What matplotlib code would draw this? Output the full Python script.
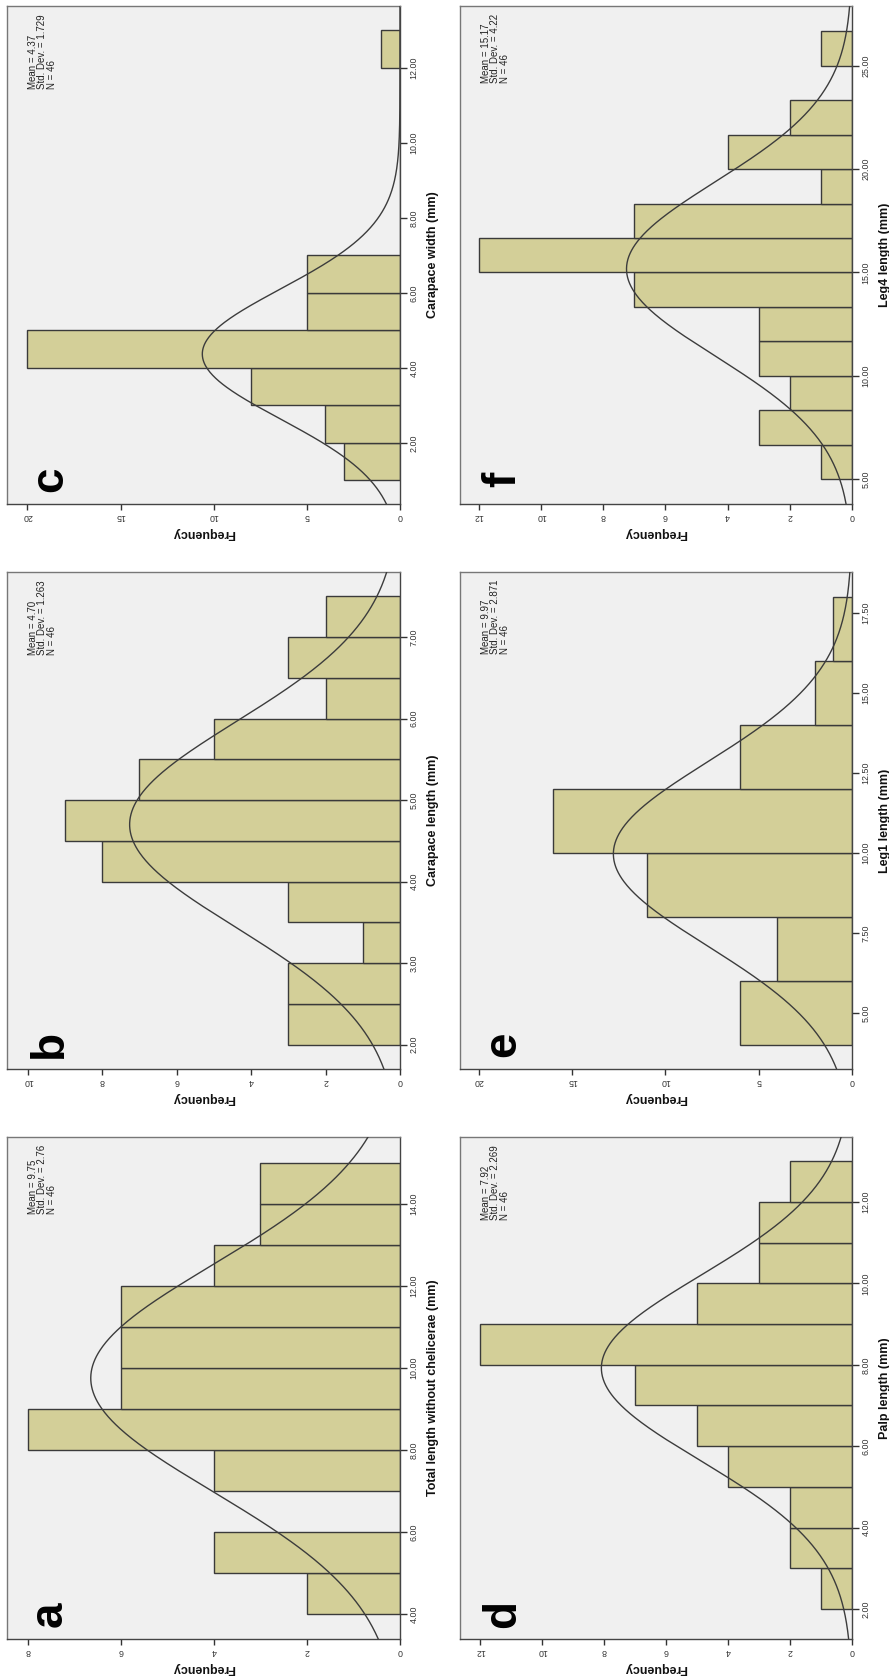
import numpy as np
import matplotlib.pyplot as plt

plt.rcParams['font.family'] = ['Liberation Sans', 'DejaVu Sans']

N = 46

# counts per bin for each measurement
freq_a = [2, 4, 0, 4, 8, 6, 6, 6, 4, 3, 3]
freq_b = [3, 3, 1, 3, 8, 9, 7, 5, 2, 3, 2]
freq_c = [3, 4, 8, 20, 5, 5, 0, 0, 0, 0, 0, 1]
freq_d = [1, 2, 2, 4, 5, 7, 12, 5, 3, 3, 2]
freq_e = [6, 4, 11, 16, 6, 2, 1]
freq_f = [1, 3, 2, 3, 3, 7, 12, 7, 1, 4, 2, 0, 1]

# first bin edge, bin width
bins_a = (4.0, 1.0)
bins_b = (2.0, 0.5)
bins_c = (1.0, 1.0)
bins_d = (2.0, 1.0)
bins_e = (4.0, 2.0)
bins_f = (5.0, 5.0 / 3.0)

# summary statistics as printed
mean_a, sd_a = "9.75", "2.76"
mean_b, sd_b = "4.70", "1.263"
mean_c, sd_c = "4.37", "1.729"
mean_d, sd_d = "7.92", "2.269"
mean_e, sd_e = "9.97", "2.871"
mean_f, sd_f = "15.17", "4.22"

label_a = "Total length without chelicerae (mm)"
label_b = "Carapace length (mm)"
label_c = "Carapace width (mm)"
label_d = "Palp length (mm)"
label_e = "Leg1 length (mm)"
label_f = "Leg4 length (mm)"

# measurement axis ticks
ticks_a = [4, 6, 8, 10, 12, 14]
ticks_b = [2, 3, 4, 5, 6, 7]
ticks_c = [2, 4, 6, 8, 10, 12]
ticks_d = [2, 4, 6, 8, 10, 12]
ticks_e = [5, 7.5, 10, 12.5, 15, 17.5]
ticks_f = [5, 10, 15, 20, 25]

# frequency axis ticks
fticks_a = [0, 2, 4, 6, 8]
fticks_b = [0, 2, 4, 6, 8, 10]
fticks_c = [0, 5, 10, 15, 20]
fticks_d = [0, 2, 4, 6, 8, 10, 12]
fticks_e = [0, 5, 10, 15, 20]
fticks_f = [0, 2, 4, 6, 8, 10, 12]

BAR = '#d3cf98'
EDGE = '#3a3a3a'
BG = '#f0f0f0'

W, H = 889, 1680
fig = plt.figure(figsize=(W / 100, H / 100), dpi=100)
fig.patch.set_facecolor('white')


def px_axes(x0, y0, x1, y1):
    # pixel box (top-left origin) -> figure fraction
    return fig.add_axes([x0 / W, 1 - y1 / H, (x1 - x0) / W, (y1 - y0) / H])


def draw_panel(ax, letter, freq, bins, mean, sd, label, ticks, fticks, vlim, flim):
    start, width = bins
    lefts = start + width * np.arange(len(freq))
    ax.set_facecolor(BG)
    ax.barh(lefts, freq, height=width, align='edge', color=BAR,
            edgecolor=EDGE, linewidth=1.0, zorder=2)

    m, s = float(mean), float(sd)
    yy = np.linspace(vlim[0], vlim[1], 500)
    xx = N * width * np.exp(-0.5 * ((yy - m) / s) ** 2) / (s * np.sqrt(2 * np.pi))
    ax.plot(xx, yy, color='#3c3c3c', lw=1.0, zorder=3)

    ax.set_ylim(*vlim)
    ax.set_xlim(flim, 0)

    ax.yaxis.tick_right()
    ax.yaxis.set_label_position('right')
    ax.set_yticks(ticks)
    ax.set_yticklabels([f"{t:.2f}" for t in ticks])
    ax.set_xticks(fticks)
    ax.set_xticklabels([str(t) for t in fticks])
    ax.tick_params(axis='y', direction='out', length=5, width=1, pad=2,
                   labelrotation=90, labelsize=6.4, color='#333333',
                   labelcolor='#333333')
    ax.tick_params(axis='x', direction='out', length=4, width=1, pad=2,
                   labelrotation=180, labelsize=6.4, color='#333333',
                   labelcolor='#333333')
    for lab in ax.get_yticklabels():
        lab.set_verticalalignment('center')

    ax.set_ylabel(label, rotation=90, fontsize=9, fontweight='bold',
                  labelpad=6, color='#111111')
    ax.set_xlabel('Frequency', rotation=180, fontsize=9, fontweight='bold',
                  labelpad=4, color='#111111')

    for side in ('top', 'left'):
        ax.spines[side].set_color('#777777')
    for side in ('right', 'bottom'):
        ax.spines[side].set_color('#444444')
    for sp in ax.spines.values():
        sp.set_linewidth(1.0)

    ax.text(0.053, 0.984, f"Mean = {mean}\nStd. Dev. = {sd}\nN = {N}",
            transform=ax.transAxes, rotation=90, rotation_mode='anchor',
            ha='right', va='top', multialignment='left', fontsize=7.0,
            linespacing=0.95, color='#222222')

    ax.text(0.14, 0.05, letter, transform=ax.transAxes, rotation=90,
            rotation_mode='anchor', ha='center', va='baseline',
            fontsize=33, fontweight='bold', color='black')


LX0, LX1 = 7, 400
RX0, RX1 = 460, 852
ROWS = [(6, 504), (572, 1069), (1137, 1639)]

ax_c = px_axes(LX0, ROWS[0][0], LX1, ROWS[0][1])
ax_b = px_axes(LX0, ROWS[1][0], LX1, ROWS[1][1])
ax_a = px_axes(LX0, ROWS[2][0], LX1, ROWS[2][1])
ax_f = px_axes(RX0, ROWS[0][0], RX1, ROWS[0][1])
ax_e = px_axes(RX0, ROWS[1][0], RX1, ROWS[1][1])
ax_d = px_axes(RX0, ROWS[2][0], RX1, ROWS[2][1])

draw_panel(ax_a, 'a', freq_a, bins_a, mean_a, sd_a, label_a, ticks_a, fticks_a, (3.39, 15.63), 8.45)
draw_panel(ax_b, 'b', freq_b, bins_b, mean_b, sd_b, label_b, ticks_b, fticks_b, (1.70, 7.80), 10.56)
draw_panel(ax_c, 'c', freq_c, bins_c, mean_c, sd_c, label_c, ticks_c, fticks_c, (0.37, 13.65), 21.1)
draw_panel(ax_d, 'd', freq_d, bins_d, mean_d, sd_d, label_d, ticks_d, fticks_d, (1.26, 13.6), 12.65)
draw_panel(ax_e, 'e', freq_e, bins_e, mean_e, sd_e, label_e, ticks_e, fticks_e, (3.25, 18.78), 21.0)
draw_panel(ax_f, 'f', freq_f, bins_f, mean_f, sd_f, label_f, ticks_f, fticks_f, (3.79, 27.9), 12.6)

fig.savefig('out.png', dpi=100, facecolor='white')
